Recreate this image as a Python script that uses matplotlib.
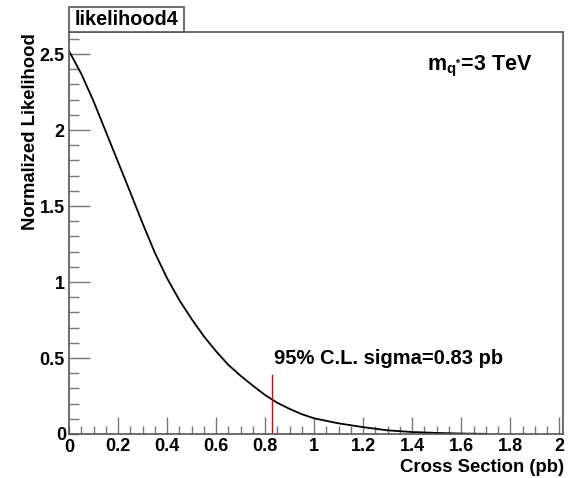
import numpy as np
import matplotlib.pyplot as plt
from matplotlib.ticker import MultipleLocator
from matplotlib.patches import Rectangle

plt.rcParams['font.family'] = ['Liberation Sans', 'DejaVu Sans']
plt.rcParams['font.weight'] = 'bold'
plt.rcParams['mathtext.fontset'] = 'custom'
plt.rcParams['mathtext.bf'] = 'Liberation Sans:bold'
plt.rcParams['mathtext.rm'] = 'Liberation Sans:bold'
plt.rcParams['mathtext.it'] = 'Liberation Sans:bold'

# Likelihood curve
xsec = [0.0, 0.05, 0.1, 0.15, 0.2, 0.25, 0.3, 0.35, 0.4, 0.45, 0.5, 0.55,
        0.6, 0.65, 0.7, 0.75, 0.8, 0.85, 0.9, 0.95, 1.0, 1.1, 1.2, 1.3,
        1.4, 1.5, 1.6, 1.7]
like = [2.52, 2.37, 2.19, 1.99, 1.79, 1.59, 1.387, 1.193, 1.025, 0.881,
        0.757, 0.643, 0.544, 0.455, 0.383, 0.318, 0.256, 0.205, 0.165, 0.13,
        0.103, 0.07, 0.045, 0.024, 0.013, 0.007, 0.003, 0.001]

limit = 0.83
limit_height = 0.39

fig = plt.figure(figsize=(5.74, 4.78), dpi=100)
ax = fig.add_axes([69 / 574, 44 / 478, 494 / 574, 402 / 478])

ax.plot(xsec, like, color='black', lw=1.3)
ax.plot([limit, limit], [0, limit_height], color='#e00000', lw=1.0)

ax.set_xlim(0, 2.015)
ax.set_ylim(0, 2.645)

ax.xaxis.set_major_locator(MultipleLocator(0.2))
ax.xaxis.set_minor_locator(MultipleLocator(0.05))
ax.yaxis.set_major_locator(MultipleLocator(0.5))
ax.yaxis.set_minor_locator(MultipleLocator(0.1))

ax.tick_params(which='both', direction='in', color='#777777', top=False, right=False,
               labelsize=13, pad=3)
ax.tick_params(axis='x', which='major', length=12, width=1)
ax.tick_params(axis='x', which='minor', length=6, width=1)
ax.tick_params(axis='y', which='major', length=15, width=1)
ax.tick_params(axis='y', which='minor', length=7.5, width=1)

ax.set_xticks([0.2, 0.4, 0.6, 0.8, 1.0, 1.2, 1.4, 1.6, 1.8, 2.0])
ax.set_xticklabels(['0.2', '0.4', '0.6', '0.8', '1', '1.2', '1.4', '1.6', '1.8', '2'])
ax.set_yticks([0.5, 1.0, 1.5, 2.0, 2.5])
ax.set_yticklabels(['0.5', '1', '1.5', '2', '2.5'])
for lab in ax.get_xticklabels() + ax.get_yticklabels():
    lab.set_fontweight('bold')

# ROOT-style origin labels
ax.text(0, -0.035, '0', transform=ax.transData, ha='center', va='top',
        fontsize=13, fontweight='bold')
ax.text(-0.012, -0.01, '0', transform=ax.transData, ha='right', va='center',
        fontsize=13, fontweight='bold')

for s in ax.spines.values():
    s.set_color('#555555')
    s.set_linewidth(1.2)

fig.text(564 / 574, 1 - 467 / 478, 'Cross Section (pb)', ha='right', va='center',
         fontsize=13.3, fontweight='bold')
fig.text(31 / 574, 1 - 33 / 478, 'Normalized Likelihood', ha='center', va='top',
         rotation=90, fontsize=13.3, fontweight='bold')

ax.text(0.725, 0.915, r'$\mathbf{m_{q^{*}}}$=3 TeV', transform=ax.transAxes,
        ha='left', va='center', fontsize=15.5, fontweight='bold')
ax.text(0.838, 0.50, '95% C.L. sigma=0.83 pb', transform=ax.transData,
        ha='left', va='center', fontsize=14.5, fontweight='bold')

# title box
fig.patches.append(Rectangle((69 / 574, 1 - 32 / 478), 115 / 574, 25 / 478,
                             transform=fig.transFigure, facecolor='white',
                             edgecolor='#555555', lw=1.2))
fig.text(126.5 / 574, 1 - 19.5 / 478, 'likelihood4', ha='center', va='center',
         fontsize=14.3, fontweight='bold')

fig.savefig('out.png', dpi=100)
